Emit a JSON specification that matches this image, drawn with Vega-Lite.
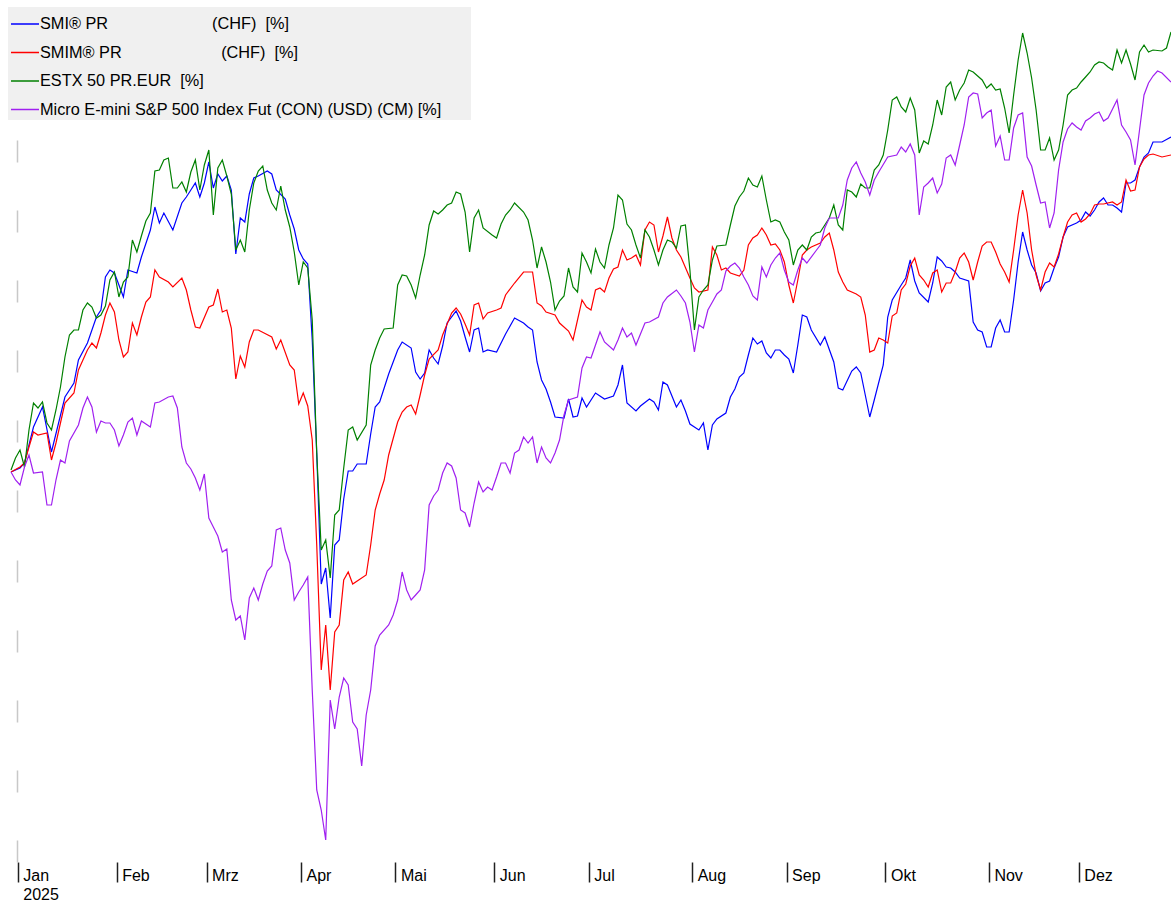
{
"$schema":"https://vega.github.io/schema/vega-lite/v6.json",
"width":1160,"height":852,
"autosize":{"type":"none"},
"padding":{"left":11,"top":10,"right":0,"bottom":40},
"background":"#ffffff",
"config":{"view":{"stroke":null},"font":"Liberation Sans"},
"datasets":{"pts":[
{"s":"SMI","t":0,"v":-0.08},{"s":"SMI","t":2,"v":0.08},{"s":"SMI","t":3,"v":0.28},{"s":"SMI","t":5,"v":1.72},{"s":"SMI","t":7,"v":2.52},{"s":"SMI","t":9,"v":0.72},{"s":"SMI","t":12,"v":2.92},{"s":"SMI","t":14,"v":3.48},{"s":"SMI","t":15,"v":4.4},{"s":"SMI","t":17,"v":5.08},{"s":"SMI","t":19,"v":6.12},{"s":"SMI","t":20,"v":6.4},{"s":"SMI","t":21,"v":7.72},{"s":"SMI","t":22,"v":8.0},{"s":"SMI","t":23,"v":7.88},{"s":"SMI","t":25,"v":6.92},{"s":"SMI","t":26,"v":8.0},{"s":"SMI","t":28,"v":7.88},{"s":"SMI","t":29,"v":8.52},{"s":"SMI","t":31,"v":9.6},{"s":"SMI","t":32,"v":10.52},{"s":"SMI","t":33,"v":9.88},{"s":"SMI","t":34,"v":10.28},{"s":"SMI","t":36,"v":9.6},{"s":"SMI","t":38,"v":10.68},{"s":"SMI","t":39,"v":10.92},{"s":"SMI","t":40,"v":11.2},{"s":"SMI","t":41,"v":11.48},{"s":"SMI","t":42,"v":10.92},{"s":"SMI","t":43,"v":11.48},{"s":"SMI","t":44,"v":12.32},{"s":"SMI","t":45,"v":11.28},{"s":"SMI","t":46,"v":11.84},{"s":"SMI","t":47,"v":11.56},{"s":"SMI","t":48,"v":11.76},{"s":"SMI","t":49,"v":11.2},{"s":"SMI","t":50,"v":8.64},{"s":"SMI","t":51,"v":10.08},{"s":"SMI","t":52,"v":9.92},{"s":"SMI","t":53,"v":11.04},{"s":"SMI","t":54,"v":11.68},{"s":"SMI","t":55,"v":11.76},{"s":"SMI","t":57,"v":11.96},{"s":"SMI","t":58,"v":11.84},{"s":"SMI","t":59,"v":11.2},{"s":"SMI","t":61,"v":10.84},{"s":"SMI","t":62,"v":10.2},{"s":"SMI","t":63,"v":9.64},{"s":"SMI","t":64,"v":8.8},{"s":"SMI","t":65,"v":8.44},{"s":"SMI","t":66,"v":8.24},{"s":"SMI","t":67,"v":5.2},{"s":"SMI","t":68,"v":0.68},{"s":"SMI","t":69,"v":-4.56},{"s":"SMI","t":70,"v":-3.92},{"s":"SMI","t":71,"v":-5.92},{"s":"SMI","t":72,"v":-3.0},{"s":"SMI","t":73,"v":-2.8},{"s":"SMI","t":74,"v":-1.16},{"s":"SMI","t":75,"v":-0.04},{"s":"SMI","t":76,"v":-0.04},{"s":"SMI","t":77,"v":0.24},{"s":"SMI","t":79,"v":0.24},{"s":"SMI","t":80,"v":1.44},{"s":"SMI","t":81,"v":2.52},{"s":"SMI","t":82,"v":2.72},{"s":"SMI","t":83,"v":3.28},{"s":"SMI","t":84,"v":3.84},{"s":"SMI","t":86,"v":4.8},{"s":"SMI","t":87,"v":5.12},{"s":"SMI","t":89,"v":4.88},{"s":"SMI","t":90,"v":3.92},{"s":"SMI","t":91,"v":3.64},{"s":"SMI","t":92,"v":3.88},{"s":"SMI","t":93,"v":4.8},{"s":"SMI","t":94,"v":4.48},{"s":"SMI","t":95,"v":4.24},{"s":"SMI","t":96,"v":4.96},{"s":"SMI","t":97,"v":5.88},{"s":"SMI","t":99,"v":6.36},{"s":"SMI","t":100,"v":5.96},{"s":"SMI","t":101,"v":5.32},{"s":"SMI","t":102,"v":4.72},{"s":"SMI","t":103,"v":5.6},{"s":"SMI","t":104,"v":5.68},{"s":"SMI","t":105,"v":4.72},{"s":"SMI","t":106,"v":4.8},{"s":"SMI","t":108,"v":4.72},{"s":"SMI","t":110,"v":5.44},{"s":"SMI","t":112,"v":6.08},{"s":"SMI","t":114,"v":5.88},{"s":"SMI","t":115,"v":5.72},{"s":"SMI","t":116,"v":5.6},{"s":"SMI","t":117,"v":4.32},{"s":"SMI","t":118,"v":3.6},{"s":"SMI","t":119,"v":3.24},{"s":"SMI","t":120,"v":2.72},{"s":"SMI","t":121,"v":2.12},{"s":"SMI","t":123,"v":2.08},{"s":"SMI","t":124,"v":2.84},{"s":"SMI","t":125,"v":2.12},{"s":"SMI","t":126,"v":2.16},{"s":"SMI","t":127,"v":2.88},{"s":"SMI","t":128,"v":2.52},{"s":"SMI","t":130,"v":3.08},{"s":"SMI","t":132,"v":2.84},{"s":"SMI","t":134,"v":2.96},{"s":"SMI","t":135,"v":3.4},{"s":"SMI","t":136,"v":4.2},{"s":"SMI","t":137,"v":2.68},{"s":"SMI","t":139,"v":2.36},{"s":"SMI","t":140,"v":2.56},{"s":"SMI","t":142,"v":2.84},{"s":"SMI","t":143,"v":2.72},{"s":"SMI","t":144,"v":2.4},{"s":"SMI","t":145,"v":3.52},{"s":"SMI","t":146,"v":3.4},{"s":"SMI","t":148,"v":2.52},{"s":"SMI","t":149,"v":2.8},{"s":"SMI","t":150,"v":2.36},{"s":"SMI","t":151,"v":1.84},{"s":"SMI","t":153,"v":1.6},{"s":"SMI","t":154,"v":1.88},{"s":"SMI","t":155,"v":0.8},{"s":"SMI","t":156,"v":1.8},{"s":"SMI","t":157,"v":2.04},{"s":"SMI","t":159,"v":2.28},{"s":"SMI","t":160,"v":2.92},{"s":"SMI","t":161,"v":3.24},{"s":"SMI","t":162,"v":3.72},{"s":"SMI","t":163,"v":3.88},{"s":"SMI","t":164,"v":4.6},{"s":"SMI","t":165,"v":5.28},{"s":"SMI","t":166,"v":5.04},{"s":"SMI","t":167,"v":5.16},{"s":"SMI","t":168,"v":4.68},{"s":"SMI","t":169,"v":4.48},{"s":"SMI","t":170,"v":4.8},{"s":"SMI","t":171,"v":4.8},{"s":"SMI","t":172,"v":4.6},{"s":"SMI","t":173,"v":4.44},{"s":"SMI","t":174,"v":3.88},{"s":"SMI","t":175,"v":5.0},{"s":"SMI","t":176,"v":6.2},{"s":"SMI","t":177,"v":6.12},{"s":"SMI","t":178,"v":5.6},{"s":"SMI","t":180,"v":5.0},{"s":"SMI","t":181,"v":5.32},{"s":"SMI","t":183,"v":4.32},{"s":"SMI","t":184,"v":3.28},{"s":"SMI","t":185,"v":3.2},{"s":"SMI","t":187,"v":3.96},{"s":"SMI","t":188,"v":4.12},{"s":"SMI","t":189,"v":3.88},{"s":"SMI","t":190,"v":3.0},{"s":"SMI","t":191,"v":2.12},{"s":"SMI","t":192,"v":2.8},{"s":"SMI","t":194,"v":4.2},{"s":"SMI","t":195,"v":6.12},{"s":"SMI","t":196,"v":6.8},{"s":"SMI","t":198,"v":7.4},{"s":"SMI","t":199,"v":7.68},{"s":"SMI","t":200,"v":8.4},{"s":"SMI","t":201,"v":7.56},{"s":"SMI","t":202,"v":7.08},{"s":"SMI","t":204,"v":6.72},{"s":"SMI","t":205,"v":7.48},{"s":"SMI","t":206,"v":8.52},{"s":"SMI","t":207,"v":8.36},{"s":"SMI","t":208,"v":8.12},{"s":"SMI","t":209,"v":8.08},{"s":"SMI","t":210,"v":7.92},{"s":"SMI","t":211,"v":7.68},{"s":"SMI","t":213,"v":7.56},{"s":"SMI","t":214,"v":5.92},{"s":"SMI","t":215,"v":5.6},{"s":"SMI","t":216,"v":5.52},{"s":"SMI","t":217,"v":4.92},{"s":"SMI","t":218,"v":4.92},{"s":"SMI","t":219,"v":5.68},{"s":"SMI","t":220,"v":6.0},{"s":"SMI","t":221,"v":5.52},{"s":"SMI","t":222,"v":5.52},{"s":"SMI","t":223,"v":6.8},{"s":"SMI","t":224,"v":8.32},{"s":"SMI","t":225,"v":9.52},{"s":"SMI","t":226,"v":8.8},{"s":"SMI","t":227,"v":8.2},{"s":"SMI","t":228,"v":7.88},{"s":"SMI","t":229,"v":7.16},{"s":"SMI","t":230,"v":7.48},{"s":"SMI","t":231,"v":7.56},{"s":"SMI","t":232,"v":8.08},{"s":"SMI","t":233,"v":8.52},{"s":"SMI","t":234,"v":9.32},{"s":"SMI","t":235,"v":9.72},{"s":"SMI","t":237,"v":9.88},{"s":"SMI","t":238,"v":10.0},{"s":"SMI","t":239,"v":10.32},{"s":"SMI","t":240,"v":10.16},{"s":"SMI","t":241,"v":10.4},{"s":"SMI","t":242,"v":10.72},{"s":"SMI","t":243,"v":10.88},{"s":"SMI","t":244,"v":10.6},{"s":"SMI","t":245,"v":10.6},{"s":"SMI","t":246,"v":10.48},{"s":"SMI","t":247,"v":10.32},{"s":"SMI","t":248,"v":11.48},{"s":"SMI","t":249,"v":11.48},{"s":"SMI","t":250,"v":11.6},{"s":"SMI","t":251,"v":12.12},{"s":"SMI","t":252,"v":12.52},{"s":"SMI","t":253,"v":12.68},{"s":"SMI","t":254,"v":13.12},{"s":"SMI","t":256,"v":13.12},{"s":"SMI","t":258,"v":13.32},
{"s":"SMIM","t":0,"v":-0.08},{"s":"SMIM","t":2,"v":0.12},{"s":"SMIM","t":3,"v":0.28},{"s":"SMIM","t":4,"v":0.92},{"s":"SMIM","t":5,"v":1.52},{"s":"SMIM","t":6,"v":1.4},{"s":"SMIM","t":8,"v":1.48},{"s":"SMIM","t":9,"v":0.4},{"s":"SMIM","t":10,"v":1.08},{"s":"SMIM","t":11,"v":1.88},{"s":"SMIM","t":12,"v":2.68},{"s":"SMIM","t":14,"v":3.08},{"s":"SMIM","t":15,"v":4.0},{"s":"SMIM","t":16,"v":4.4},{"s":"SMIM","t":17,"v":4.8},{"s":"SMIM","t":18,"v":5.08},{"s":"SMIM","t":19,"v":4.88},{"s":"SMIM","t":20,"v":5.48},{"s":"SMIM","t":21,"v":6.2},{"s":"SMIM","t":22,"v":6.68},{"s":"SMIM","t":23,"v":6.32},{"s":"SMIM","t":24,"v":5.2},{"s":"SMIM","t":25,"v":4.52},{"s":"SMIM","t":26,"v":4.72},{"s":"SMIM","t":27,"v":5.88},{"s":"SMIM","t":28,"v":5.4},{"s":"SMIM","t":29,"v":6.12},{"s":"SMIM","t":30,"v":6.72},{"s":"SMIM","t":31,"v":6.92},{"s":"SMIM","t":32,"v":8.0},{"s":"SMIM","t":33,"v":7.72},{"s":"SMIM","t":35,"v":7.52},{"s":"SMIM","t":36,"v":7.32},{"s":"SMIM","t":38,"v":7.68},{"s":"SMIM","t":39,"v":7.2},{"s":"SMIM","t":40,"v":6.4},{"s":"SMIM","t":41,"v":5.72},{"s":"SMIM","t":42,"v":5.68},{"s":"SMIM","t":44,"v":6.52},{"s":"SMIM","t":45,"v":6.6},{"s":"SMIM","t":46,"v":7.24},{"s":"SMIM","t":47,"v":6.32},{"s":"SMIM","t":48,"v":6.4},{"s":"SMIM","t":49,"v":5.68},{"s":"SMIM","t":50,"v":3.64},{"s":"SMIM","t":51,"v":4.56},{"s":"SMIM","t":52,"v":4.12},{"s":"SMIM","t":53,"v":5.12},{"s":"SMIM","t":54,"v":5.6},{"s":"SMIM","t":55,"v":5.6},{"s":"SMIM","t":58,"v":5.32},{"s":"SMIM","t":59,"v":4.84},{"s":"SMIM","t":60,"v":5.2},{"s":"SMIM","t":62,"v":4.2},{"s":"SMIM","t":63,"v":4.0},{"s":"SMIM","t":64,"v":2.64},{"s":"SMIM","t":65,"v":3.08},{"s":"SMIM","t":66,"v":2.56},{"s":"SMIM","t":67,"v":1.2},{"s":"SMIM","t":68,"v":-3.0},{"s":"SMIM","t":69,"v":-8.0},{"s":"SMIM","t":70,"v":-6.2},{"s":"SMIM","t":71,"v":-8.8},{"s":"SMIM","t":72,"v":-6.48},{"s":"SMIM","t":73,"v":-6.2},{"s":"SMIM","t":74,"v":-4.4},{"s":"SMIM","t":75,"v":-4.08},{"s":"SMIM","t":76,"v":-4.56},{"s":"SMIM","t":79,"v":-4.2},{"s":"SMIM","t":80,"v":-3.0},{"s":"SMIM","t":81,"v":-1.6},{"s":"SMIM","t":82,"v":-0.96},{"s":"SMIM","t":83,"v":-0.4},{"s":"SMIM","t":84,"v":0.6},{"s":"SMIM","t":86,"v":1.92},{"s":"SMIM","t":87,"v":2.32},{"s":"SMIM","t":88,"v":2.52},{"s":"SMIM","t":89,"v":2.6},{"s":"SMIM","t":90,"v":2.24},{"s":"SMIM","t":91,"v":3.0},{"s":"SMIM","t":92,"v":3.8},{"s":"SMIM","t":93,"v":4.44},{"s":"SMIM","t":95,"v":4.8},{"s":"SMIM","t":96,"v":5.4},{"s":"SMIM","t":98,"v":6.28},{"s":"SMIM","t":99,"v":6.48},{"s":"SMIM","t":100,"v":6.24},{"s":"SMIM","t":101,"v":5.84},{"s":"SMIM","t":102,"v":5.4},{"s":"SMIM","t":103,"v":6.6},{"s":"SMIM","t":104,"v":6.68},{"s":"SMIM","t":105,"v":6.04},{"s":"SMIM","t":106,"v":6.28},{"s":"SMIM","t":108,"v":6.4},{"s":"SMIM","t":109,"v":6.48},{"s":"SMIM","t":110,"v":7.0},{"s":"SMIM","t":112,"v":7.48},{"s":"SMIM","t":114,"v":7.92},{"s":"SMIM","t":116,"v":7.92},{"s":"SMIM","t":117,"v":6.68},{"s":"SMIM","t":118,"v":6.56},{"s":"SMIM","t":119,"v":6.32},{"s":"SMIM","t":121,"v":6.2},{"s":"SMIM","t":122,"v":5.88},{"s":"SMIM","t":124,"v":5.56},{"s":"SMIM","t":125,"v":5.2},{"s":"SMIM","t":127,"v":6.8},{"s":"SMIM","t":128,"v":6.52},{"s":"SMIM","t":129,"v":6.4},{"s":"SMIM","t":130,"v":7.2},{"s":"SMIM","t":131,"v":7.28},{"s":"SMIM","t":132,"v":7.12},{"s":"SMIM","t":133,"v":7.68},{"s":"SMIM","t":134,"v":8.04},{"s":"SMIM","t":135,"v":8.12},{"s":"SMIM","t":136,"v":8.8},{"s":"SMIM","t":137,"v":8.4},{"s":"SMIM","t":138,"v":8.48},{"s":"SMIM","t":139,"v":8.6},{"s":"SMIM","t":140,"v":8.2},{"s":"SMIM","t":141,"v":9.6},{"s":"SMIM","t":142,"v":9.92},{"s":"SMIM","t":143,"v":9.8},{"s":"SMIM","t":144,"v":8.72},{"s":"SMIM","t":145,"v":9.36},{"s":"SMIM","t":146,"v":10.12},{"s":"SMIM","t":147,"v":9.28},{"s":"SMIM","t":148,"v":8.8},{"s":"SMIM","t":149,"v":8.52},{"s":"SMIM","t":151,"v":7.68},{"s":"SMIM","t":152,"v":7.28},{"s":"SMIM","t":153,"v":7.12},{"s":"SMIM","t":155,"v":7.2},{"s":"SMIM","t":156,"v":8.92},{"s":"SMIM","t":157,"v":8.6},{"s":"SMIM","t":158,"v":8.0},{"s":"SMIM","t":159,"v":8.08},{"s":"SMIM","t":160,"v":7.88},{"s":"SMIM","t":162,"v":7.76},{"s":"SMIM","t":163,"v":8.0},{"s":"SMIM","t":164,"v":9.0},{"s":"SMIM","t":165,"v":9.28},{"s":"SMIM","t":166,"v":9.4},{"s":"SMIM","t":167,"v":9.68},{"s":"SMIM","t":168,"v":9.4},{"s":"SMIM","t":169,"v":9.0},{"s":"SMIM","t":170,"v":9.04},{"s":"SMIM","t":171,"v":8.8},{"s":"SMIM","t":172,"v":8.32},{"s":"SMIM","t":173,"v":7.4},{"s":"SMIM","t":174,"v":6.68},{"s":"SMIM","t":175,"v":7.6},{"s":"SMIM","t":176,"v":8.6},{"s":"SMIM","t":177,"v":8.8},{"s":"SMIM","t":178,"v":8.92},{"s":"SMIM","t":180,"v":9.08},{"s":"SMIM","t":181,"v":9.32},{"s":"SMIM","t":182,"v":9.48},{"s":"SMIM","t":183,"v":8.8},{"s":"SMIM","t":184,"v":7.92},{"s":"SMIM","t":185,"v":7.52},{"s":"SMIM","t":186,"v":7.2},{"s":"SMIM","t":188,"v":7.04},{"s":"SMIM","t":189,"v":6.92},{"s":"SMIM","t":190,"v":6.2},{"s":"SMIM","t":191,"v":4.72},{"s":"SMIM","t":192,"v":4.8},{"s":"SMIM","t":193,"v":5.28},{"s":"SMIM","t":194,"v":5.2},{"s":"SMIM","t":195,"v":5.08},{"s":"SMIM","t":196,"v":6.16},{"s":"SMIM","t":197,"v":6.28},{"s":"SMIM","t":198,"v":7.2},{"s":"SMIM","t":199,"v":7.44},{"s":"SMIM","t":200,"v":8.16},{"s":"SMIM","t":201,"v":8.48},{"s":"SMIM","t":202,"v":7.8},{"s":"SMIM","t":203,"v":7.6},{"s":"SMIM","t":204,"v":7.32},{"s":"SMIM","t":205,"v":7.88},{"s":"SMIM","t":206,"v":8.0},{"s":"SMIM","t":207,"v":7.12},{"s":"SMIM","t":208,"v":7.48},{"s":"SMIM","t":209,"v":7.48},{"s":"SMIM","t":210,"v":7.92},{"s":"SMIM","t":211,"v":8.48},{"s":"SMIM","t":212,"v":8.68},{"s":"SMIM","t":213,"v":8.32},{"s":"SMIM","t":214,"v":7.6},{"s":"SMIM","t":215,"v":8.32},{"s":"SMIM","t":216,"v":8.96},{"s":"SMIM","t":217,"v":9.12},{"s":"SMIM","t":218,"v":9.12},{"s":"SMIM","t":219,"v":8.72},{"s":"SMIM","t":220,"v":8.24},{"s":"SMIM","t":221,"v":7.92},{"s":"SMIM","t":222,"v":7.52},{"s":"SMIM","t":223,"v":8.8},{"s":"SMIM","t":224,"v":10.2},{"s":"SMIM","t":225,"v":11.2},{"s":"SMIM","t":226,"v":10.28},{"s":"SMIM","t":227,"v":8.8},{"s":"SMIM","t":228,"v":7.8},{"s":"SMIM","t":229,"v":7.2},{"s":"SMIM","t":230,"v":7.92},{"s":"SMIM","t":231,"v":8.28},{"s":"SMIM","t":232,"v":8.12},{"s":"SMIM","t":233,"v":8.64},{"s":"SMIM","t":234,"v":9.32},{"s":"SMIM","t":235,"v":9.92},{"s":"SMIM","t":236,"v":10.2},{"s":"SMIM","t":237,"v":10.28},{"s":"SMIM","t":238,"v":9.92},{"s":"SMIM","t":239,"v":10.04},{"s":"SMIM","t":240,"v":10.24},{"s":"SMIM","t":241,"v":10.6},{"s":"SMIM","t":242,"v":10.64},{"s":"SMIM","t":243,"v":10.64},{"s":"SMIM","t":245,"v":10.72},{"s":"SMIM","t":246,"v":10.6},{"s":"SMIM","t":247,"v":10.72},{"s":"SMIM","t":248,"v":11.6},{"s":"SMIM","t":249,"v":11.16},{"s":"SMIM","t":250,"v":11.2},{"s":"SMIM","t":251,"v":12.12},{"s":"SMIM","t":252,"v":12.44},{"s":"SMIM","t":253,"v":12.6},{"s":"SMIM","t":254,"v":12.64},{"s":"SMIM","t":256,"v":12.52},{"s":"SMIM","t":258,"v":12.6},
{"s":"ESTX","t":0,"v":0},{"s":"ESTX","t":1,"v":0.48},{"s":"ESTX","t":2,"v":0.8},{"s":"ESTX","t":3,"v":0.12},{"s":"ESTX","t":4,"v":1.6},{"s":"ESTX","t":5,"v":2.68},{"s":"ESTX","t":6,"v":2.48},{"s":"ESTX","t":7,"v":2.72},{"s":"ESTX","t":8,"v":1.88},{"s":"ESTX","t":9,"v":1.6},{"s":"ESTX","t":10,"v":2.4},{"s":"ESTX","t":11,"v":3.32},{"s":"ESTX","t":12,"v":4.52},{"s":"ESTX","t":13,"v":5.4},{"s":"ESTX","t":14,"v":5.6},{"s":"ESTX","t":15,"v":5.6},{"s":"ESTX","t":16,"v":6.4},{"s":"ESTX","t":17,"v":6.68},{"s":"ESTX","t":18,"v":6.52},{"s":"ESTX","t":19,"v":6.08},{"s":"ESTX","t":20,"v":6.2},{"s":"ESTX","t":21,"v":6.56},{"s":"ESTX","t":22,"v":7.6},{"s":"ESTX","t":23,"v":7.92},{"s":"ESTX","t":24,"v":6.92},{"s":"ESTX","t":25,"v":7.52},{"s":"ESTX","t":26,"v":7.72},{"s":"ESTX","t":27,"v":9.2},{"s":"ESTX","t":28,"v":8.72},{"s":"ESTX","t":29,"v":9.36},{"s":"ESTX","t":30,"v":9.96},{"s":"ESTX","t":31,"v":10.28},{"s":"ESTX","t":32,"v":11.96},{"s":"ESTX","t":33,"v":12.0},{"s":"ESTX","t":34,"v":12.4},{"s":"ESTX","t":35,"v":12.48},{"s":"ESTX","t":36,"v":11.28},{"s":"ESTX","t":37,"v":11.28},{"s":"ESTX","t":38,"v":11.52},{"s":"ESTX","t":39,"v":11.12},{"s":"ESTX","t":40,"v":11.92},{"s":"ESTX","t":41,"v":12.4},{"s":"ESTX","t":42,"v":11.2},{"s":"ESTX","t":43,"v":12.2},{"s":"ESTX","t":44,"v":12.8},{"s":"ESTX","t":45,"v":10.2},{"s":"ESTX","t":46,"v":12.08},{"s":"ESTX","t":47,"v":12.4},{"s":"ESTX","t":48,"v":11.76},{"s":"ESTX","t":49,"v":11.04},{"s":"ESTX","t":50,"v":8.8},{"s":"ESTX","t":51,"v":9.2},{"s":"ESTX","t":52,"v":8.72},{"s":"ESTX","t":53,"v":10.4},{"s":"ESTX","t":54,"v":11.48},{"s":"ESTX","t":55,"v":11.96},{"s":"ESTX","t":56,"v":12.16},{"s":"ESTX","t":57,"v":11.2},{"s":"ESTX","t":58,"v":10.68},{"s":"ESTX","t":59,"v":10.4},{"s":"ESTX","t":60,"v":11.36},{"s":"ESTX","t":61,"v":10.4},{"s":"ESTX","t":62,"v":9.72},{"s":"ESTX","t":63,"v":8.72},{"s":"ESTX","t":64,"v":7.4},{"s":"ESTX","t":65,"v":8.32},{"s":"ESTX","t":66,"v":8.08},{"s":"ESTX","t":67,"v":6.0},{"s":"ESTX","t":68,"v":0.68},{"s":"ESTX","t":69,"v":-3.2},{"s":"ESTX","t":70,"v":-2.8},{"s":"ESTX","t":71,"v":-4.32},{"s":"ESTX","t":72,"v":-1.8},{"s":"ESTX","t":73,"v":-1.6},{"s":"ESTX","t":74,"v":0.08},{"s":"ESTX","t":75,"v":1.6},{"s":"ESTX","t":76,"v":1.72},{"s":"ESTX","t":77,"v":1.2},{"s":"ESTX","t":79,"v":1.8},{"s":"ESTX","t":80,"v":4.2},{"s":"ESTX","t":81,"v":4.8},{"s":"ESTX","t":82,"v":5.28},{"s":"ESTX","t":83,"v":5.64},{"s":"ESTX","t":85,"v":5.68},{"s":"ESTX","t":86,"v":7.4},{"s":"ESTX","t":87,"v":7.8},{"s":"ESTX","t":88,"v":7.76},{"s":"ESTX","t":89,"v":7.4},{"s":"ESTX","t":90,"v":6.88},{"s":"ESTX","t":91,"v":7.8},{"s":"ESTX","t":92,"v":8.6},{"s":"ESTX","t":93,"v":9.8},{"s":"ESTX","t":94,"v":10.36},{"s":"ESTX","t":95,"v":10.24},{"s":"ESTX","t":96,"v":10.4},{"s":"ESTX","t":97,"v":10.6},{"s":"ESTX","t":98,"v":10.68},{"s":"ESTX","t":99,"v":11.12},{"s":"ESTX","t":100,"v":11.04},{"s":"ESTX","t":101,"v":10.32},{"s":"ESTX","t":102,"v":8.72},{"s":"ESTX","t":103,"v":10.08},{"s":"ESTX","t":104,"v":10.4},{"s":"ESTX","t":105,"v":9.68},{"s":"ESTX","t":107,"v":9.4},{"s":"ESTX","t":108,"v":9.28},{"s":"ESTX","t":109,"v":9.84},{"s":"ESTX","t":110,"v":10.2},{"s":"ESTX","t":111,"v":10.4},{"s":"ESTX","t":112,"v":10.68},{"s":"ESTX","t":114,"v":10.32},{"s":"ESTX","t":115,"v":10.0},{"s":"ESTX","t":116,"v":9.2},{"s":"ESTX","t":117,"v":8.08},{"s":"ESTX","t":118,"v":8.92},{"s":"ESTX","t":119,"v":8.32},{"s":"ESTX","t":120,"v":7.52},{"s":"ESTX","t":121,"v":6.4},{"s":"ESTX","t":122,"v":6.76},{"s":"ESTX","t":123,"v":6.96},{"s":"ESTX","t":124,"v":8.08},{"s":"ESTX","t":125,"v":7.32},{"s":"ESTX","t":126,"v":7.12},{"s":"ESTX","t":127,"v":8.68},{"s":"ESTX","t":128,"v":8.32},{"s":"ESTX","t":129,"v":7.88},{"s":"ESTX","t":130,"v":8.84},{"s":"ESTX","t":131,"v":8.32},{"s":"ESTX","t":132,"v":8.08},{"s":"ESTX","t":133,"v":9.0},{"s":"ESTX","t":134,"v":9.68},{"s":"ESTX","t":135,"v":11.0},{"s":"ESTX","t":136,"v":10.8},{"s":"ESTX","t":137,"v":9.84},{"s":"ESTX","t":138,"v":9.6},{"s":"ESTX","t":139,"v":9.0},{"s":"ESTX","t":140,"v":8.48},{"s":"ESTX","t":141,"v":9.6},{"s":"ESTX","t":142,"v":9.32},{"s":"ESTX","t":143,"v":8.8},{"s":"ESTX","t":144,"v":8.2},{"s":"ESTX","t":145,"v":8.8},{"s":"ESTX","t":146,"v":9.2},{"s":"ESTX","t":147,"v":9.12},{"s":"ESTX","t":148,"v":8.88},{"s":"ESTX","t":149,"v":9.76},{"s":"ESTX","t":150,"v":9.8},{"s":"ESTX","t":151,"v":8.0},{"s":"ESTX","t":152,"v":5.6},{"s":"ESTX","t":153,"v":6.92},{"s":"ESTX","t":154,"v":7.2},{"s":"ESTX","t":155,"v":7.4},{"s":"ESTX","t":156,"v":8.4},{"s":"ESTX","t":157,"v":8.96},{"s":"ESTX","t":159,"v":9.0},{"s":"ESTX","t":160,"v":9.8},{"s":"ESTX","t":161,"v":10.56},{"s":"ESTX","t":162,"v":10.92},{"s":"ESTX","t":163,"v":11.16},{"s":"ESTX","t":164,"v":11.68},{"s":"ESTX","t":165,"v":11.4},{"s":"ESTX","t":166,"v":11.32},{"s":"ESTX","t":167,"v":11.76},{"s":"ESTX","t":168,"v":10.8},{"s":"ESTX","t":169,"v":9.92},{"s":"ESTX","t":170,"v":10.0},{"s":"ESTX","t":171,"v":9.92},{"s":"ESTX","t":172,"v":9.52},{"s":"ESTX","t":173,"v":9.2},{"s":"ESTX","t":174,"v":8.2},{"s":"ESTX","t":175,"v":8.8},{"s":"ESTX","t":176,"v":9.0},{"s":"ESTX","t":177,"v":8.8},{"s":"ESTX","t":178,"v":9.32},{"s":"ESTX","t":179,"v":9.48},{"s":"ESTX","t":180,"v":9.52},{"s":"ESTX","t":181,"v":9.8},{"s":"ESTX","t":182,"v":10.08},{"s":"ESTX","t":183,"v":10.6},{"s":"ESTX","t":184,"v":9.8},{"s":"ESTX","t":185,"v":9.6},{"s":"ESTX","t":186,"v":11.2},{"s":"ESTX","t":187,"v":11.12},{"s":"ESTX","t":188,"v":10.92},{"s":"ESTX","t":189,"v":11.44},{"s":"ESTX","t":190,"v":11.28},{"s":"ESTX","t":191,"v":11.28},{"s":"ESTX","t":192,"v":12.0},{"s":"ESTX","t":193,"v":12.2},{"s":"ESTX","t":194,"v":12.6},{"s":"ESTX","t":195,"v":13.6},{"s":"ESTX","t":196,"v":14.8},{"s":"ESTX","t":197,"v":14.92},{"s":"ESTX","t":198,"v":14.52},{"s":"ESTX","t":199,"v":14.32},{"s":"ESTX","t":200,"v":14.88},{"s":"ESTX","t":201,"v":14.4},{"s":"ESTX","t":202,"v":12.68},{"s":"ESTX","t":203,"v":13.16},{"s":"ESTX","t":204,"v":13.04},{"s":"ESTX","t":205,"v":13.8},{"s":"ESTX","t":206,"v":14.8},{"s":"ESTX","t":207,"v":14.2},{"s":"ESTX","t":208,"v":15.32},{"s":"ESTX","t":209,"v":15.52},{"s":"ESTX","t":210,"v":14.8},{"s":"ESTX","t":211,"v":15.2},{"s":"ESTX","t":212,"v":15.48},{"s":"ESTX","t":213,"v":16.0},{"s":"ESTX","t":214,"v":15.92},{"s":"ESTX","t":216,"v":15.6},{"s":"ESTX","t":217,"v":15.28},{"s":"ESTX","t":218,"v":15.44},{"s":"ESTX","t":219,"v":15.2},{"s":"ESTX","t":220,"v":15.24},{"s":"ESTX","t":221,"v":14.48},{"s":"ESTX","t":222,"v":13.48},{"s":"ESTX","t":223,"v":15.0},{"s":"ESTX","t":224,"v":16.4},{"s":"ESTX","t":225,"v":17.48},{"s":"ESTX","t":226,"v":16.68},{"s":"ESTX","t":227,"v":15.68},{"s":"ESTX","t":228,"v":14.4},{"s":"ESTX","t":229,"v":12.8},{"s":"ESTX","t":230,"v":12.8},{"s":"ESTX","t":231,"v":13.28},{"s":"ESTX","t":232,"v":12.4},{"s":"ESTX","t":233,"v":12.8},{"s":"ESTX","t":234,"v":13.8},{"s":"ESTX","t":235,"v":15.0},{"s":"ESTX","t":236,"v":15.2},{"s":"ESTX","t":237,"v":15.28},{"s":"ESTX","t":238,"v":15.52},{"s":"ESTX","t":239,"v":15.72},{"s":"ESTX","t":240,"v":15.92},{"s":"ESTX","t":241,"v":16.2},{"s":"ESTX","t":242,"v":16.32},{"s":"ESTX","t":243,"v":16.28},{"s":"ESTX","t":244,"v":16.12},{"s":"ESTX","t":245,"v":16.0},{"s":"ESTX","t":246,"v":16.8},{"s":"ESTX","t":247,"v":16.28},{"s":"ESTX","t":248,"v":16.8},{"s":"ESTX","t":249,"v":16.24},{"s":"ESTX","t":250,"v":15.6},{"s":"ESTX","t":251,"v":16.72},{"s":"ESTX","t":252,"v":17.0},{"s":"ESTX","t":253,"v":16.72},{"s":"ESTX","t":254,"v":16.8},{"s":"ESTX","t":256,"v":16.76},{"s":"ESTX","t":257,"v":16.88},{"s":"ESTX","t":258,"v":17.52},
{"s":"MES","t":0,"v":-0.08},{"s":"MES","t":1,"v":-0.4},{"s":"MES","t":2,"v":-0.6},{"s":"MES","t":3,"v":0.12},{"s":"MES","t":4,"v":0.6},{"s":"MES","t":5,"v":-0.12},{"s":"MES","t":7,"v":-0.08},{"s":"MES","t":8,"v":-1.4},{"s":"MES","t":9,"v":-1.4},{"s":"MES","t":10,"v":-0.4},{"s":"MES","t":11,"v":0.4},{"s":"MES","t":12,"v":0.28},{"s":"MES","t":13,"v":1.16},{"s":"MES","t":15,"v":1.8},{"s":"MES","t":16,"v":2.48},{"s":"MES","t":17,"v":2.92},{"s":"MES","t":18,"v":2.52},{"s":"MES","t":19,"v":1.52},{"s":"MES","t":20,"v":1.96},{"s":"MES","t":21,"v":1.88},{"s":"MES","t":22,"v":1.88},{"s":"MES","t":23,"v":1.6},{"s":"MES","t":24,"v":0.96},{"s":"MES","t":25,"v":1.4},{"s":"MES","t":26,"v":1.92},{"s":"MES","t":27,"v":2.08},{"s":"MES","t":28,"v":1.4},{"s":"MES","t":29,"v":1.96},{"s":"MES","t":31,"v":1.72},{"s":"MES","t":32,"v":2.68},{"s":"MES","t":33,"v":2.72},{"s":"MES","t":35,"v":2.92},{"s":"MES","t":36,"v":2.96},{"s":"MES","t":37,"v":2.48},{"s":"MES","t":38,"v":0.92},{"s":"MES","t":39,"v":0.28},{"s":"MES","t":40,"v":0.04},{"s":"MES","t":41,"v":-0.32},{"s":"MES","t":42,"v":-0.8},{"s":"MES","t":43,"v":-0.16},{"s":"MES","t":44,"v":-1.92},{"s":"MES","t":45,"v":-2.28},{"s":"MES","t":46,"v":-2.64},{"s":"MES","t":47,"v":-3.28},{"s":"MES","t":48,"v":-3.16},{"s":"MES","t":49,"v":-5.2},{"s":"MES","t":50,"v":-6.0},{"s":"MES","t":51,"v":-5.84},{"s":"MES","t":52,"v":-6.8},{"s":"MES","t":53,"v":-5.12},{"s":"MES","t":54,"v":-4.72},{"s":"MES","t":55,"v":-5.2},{"s":"MES","t":56,"v":-4.56},{"s":"MES","t":57,"v":-4.04},{"s":"MES","t":58,"v":-3.84},{"s":"MES","t":59,"v":-2.4},{"s":"MES","t":60,"v":-2.32},{"s":"MES","t":61,"v":-3.2},{"s":"MES","t":62,"v":-3.72},{"s":"MES","t":63,"v":-5.2},{"s":"MES","t":64,"v":-4.88},{"s":"MES","t":65,"v":-4.6},{"s":"MES","t":66,"v":-4.28},{"s":"MES","t":67,"v":-8.8},{"s":"MES","t":68,"v":-12.8},{"s":"MES","t":69,"v":-13.6},{"s":"MES","t":70,"v":-14.8},{"s":"MES","t":71,"v":-9.2},{"s":"MES","t":72,"v":-10.36},{"s":"MES","t":73,"v":-9.08},{"s":"MES","t":74,"v":-8.32},{"s":"MES","t":75,"v":-8.6},{"s":"MES","t":76,"v":-10.08},{"s":"MES","t":77,"v":-10.36},{"s":"MES","t":78,"v":-11.84},{"s":"MES","t":79,"v":-9.8},{"s":"MES","t":80,"v":-8.8},{"s":"MES","t":81,"v":-7.04},{"s":"MES","t":82,"v":-6.6},{"s":"MES","t":84,"v":-6.2},{"s":"MES","t":85,"v":-5.8},{"s":"MES","t":86,"v":-5.2},{"s":"MES","t":87,"v":-4.08},{"s":"MES","t":88,"v":-4.8},{"s":"MES","t":89,"v":-5.2},{"s":"MES","t":90,"v":-5.0},{"s":"MES","t":91,"v":-4.8},{"s":"MES","t":92,"v":-4.0},{"s":"MES","t":93,"v":-1.4},{"s":"MES","t":94,"v":-1.04},{"s":"MES","t":95,"v":-0.8},{"s":"MES","t":96,"v":-0.12},{"s":"MES","t":97,"v":0.28},{"s":"MES","t":98,"v":0.16},{"s":"MES","t":99,"v":-0.32},{"s":"MES","t":100,"v":-1.6},{"s":"MES","t":101,"v":-1.72},{"s":"MES","t":102,"v":-2.28},{"s":"MES","t":103,"v":-1.32},{"s":"MES","t":104,"v":-0.48},{"s":"MES","t":105,"v":-0.88},{"s":"MES","t":106,"v":-0.68},{"s":"MES","t":107,"v":-0.8},{"s":"MES","t":108,"v":-0.28},{"s":"MES","t":109,"v":0.28},{"s":"MES","t":110,"v":0.28},{"s":"MES","t":111,"v":-0.12},{"s":"MES","t":112,"v":0.68},{"s":"MES","t":113,"v":0.8},{"s":"MES","t":114,"v":1.32},{"s":"MES","t":115,"v":1.08},{"s":"MES","t":116,"v":1.32},{"s":"MES","t":117,"v":0.28},{"s":"MES","t":118,"v":0.92},{"s":"MES","t":119,"v":0.48},{"s":"MES","t":120,"v":0.28},{"s":"MES","t":121,"v":0.68},{"s":"MES","t":122,"v":1.2},{"s":"MES","t":123,"v":2.2},{"s":"MES","t":124,"v":2.8},{"s":"MES","t":126,"v":2.92},{"s":"MES","t":127,"v":4.08},{"s":"MES","t":128,"v":4.52},{"s":"MES","t":129,"v":4.48},{"s":"MES","t":130,"v":5.0},{"s":"MES","t":131,"v":5.52},{"s":"MES","t":132,"v":5.12},{"s":"MES","t":134,"v":4.8},{"s":"MES","t":135,"v":5.2},{"s":"MES","t":136,"v":5.68},{"s":"MES","t":137,"v":5.32},{"s":"MES","t":138,"v":5.48},{"s":"MES","t":139,"v":5.0},{"s":"MES","t":140,"v":5.44},{"s":"MES","t":141,"v":5.88},{"s":"MES","t":142,"v":5.92},{"s":"MES","t":144,"v":6.12},{"s":"MES","t":145,"v":6.68},{"s":"MES","t":146,"v":6.92},{"s":"MES","t":148,"v":7.2},{"s":"MES","t":149,"v":6.96},{"s":"MES","t":150,"v":6.68},{"s":"MES","t":151,"v":5.92},{"s":"MES","t":152,"v":4.72},{"s":"MES","t":153,"v":5.8},{"s":"MES","t":154,"v":5.68},{"s":"MES","t":155,"v":6.4},{"s":"MES","t":156,"v":6.72},{"s":"MES","t":157,"v":7.04},{"s":"MES","t":158,"v":7.2},{"s":"MES","t":159,"v":7.96},{"s":"MES","t":160,"v":8.16},{"s":"MES","t":161,"v":8.28},{"s":"MES","t":162,"v":8.08},{"s":"MES","t":163,"v":7.72},{"s":"MES","t":164,"v":7.4},{"s":"MES","t":165,"v":6.96},{"s":"MES","t":166,"v":6.8},{"s":"MES","t":167,"v":8.12},{"s":"MES","t":168,"v":7.72},{"s":"MES","t":169,"v":8.2},{"s":"MES","t":170,"v":8.48},{"s":"MES","t":171,"v":8.68},{"s":"MES","t":172,"v":8.0},{"s":"MES","t":173,"v":7.52},{"s":"MES","t":174,"v":7.4},{"s":"MES","t":175,"v":8.0},{"s":"MES","t":176,"v":8.48},{"s":"MES","t":177,"v":8.28},{"s":"MES","t":179,"v":8.76},{"s":"MES","t":180,"v":9.0},{"s":"MES","t":181,"v":9.68},{"s":"MES","t":182,"v":10.08},{"s":"MES","t":184,"v":10.08},{"s":"MES","t":185,"v":10.6},{"s":"MES","t":186,"v":11.6},{"s":"MES","t":187,"v":12.08},{"s":"MES","t":188,"v":12.32},{"s":"MES","t":189,"v":11.88},{"s":"MES","t":190,"v":11.52},{"s":"MES","t":191,"v":11.0},{"s":"MES","t":192,"v":11.6},{"s":"MES","t":193,"v":11.92},{"s":"MES","t":195,"v":12.52},{"s":"MES","t":197,"v":12.6},{"s":"MES","t":198,"v":12.92},{"s":"MES","t":199,"v":12.72},{"s":"MES","t":200,"v":13.04},{"s":"MES","t":201,"v":12.6},{"s":"MES","t":202,"v":10.2},{"s":"MES","t":203,"v":11.32},{"s":"MES","t":204,"v":11.48},{"s":"MES","t":205,"v":11.68},{"s":"MES","t":206,"v":11.08},{"s":"MES","t":207,"v":11.44},{"s":"MES","t":208,"v":12.48},{"s":"MES","t":209,"v":12.6},{"s":"MES","t":210,"v":12.2},{"s":"MES","t":211,"v":13.0},{"s":"MES","t":212,"v":13.8},{"s":"MES","t":213,"v":14.92},{"s":"MES","t":214,"v":15.08},{"s":"MES","t":215,"v":15.04},{"s":"MES","t":216,"v":14.08},{"s":"MES","t":217,"v":14.28},{"s":"MES","t":218,"v":14.4},{"s":"MES","t":219,"v":12.96},{"s":"MES","t":220,"v":13.36},{"s":"MES","t":221,"v":12.4},{"s":"MES","t":222,"v":12.4},{"s":"MES","t":223,"v":13.68},{"s":"MES","t":224,"v":14.2},{"s":"MES","t":225,"v":14.28},{"s":"MES","t":226,"v":12.52},{"s":"MES","t":227,"v":12.16},{"s":"MES","t":228,"v":11.4},{"s":"MES","t":229,"v":10.68},{"s":"MES","t":230,"v":10.72},{"s":"MES","t":231,"v":9.68},{"s":"MES","t":232,"v":10.28},{"s":"MES","t":233,"v":12.0},{"s":"MES","t":234,"v":13.12},{"s":"MES","t":235,"v":13.64},{"s":"MES","t":236,"v":13.88},{"s":"MES","t":237,"v":13.72},{"s":"MES","t":238,"v":13.6},{"s":"MES","t":239,"v":13.96},{"s":"MES","t":240,"v":14.08},{"s":"MES","t":241,"v":14.24},{"s":"MES","t":242,"v":14.32},{"s":"MES","t":243,"v":13.96},{"s":"MES","t":244,"v":14.08},{"s":"MES","t":245,"v":14.44},{"s":"MES","t":246,"v":14.8},{"s":"MES","t":247,"v":13.8},{"s":"MES","t":248,"v":13.52},{"s":"MES","t":249,"v":13.2},{"s":"MES","t":250,"v":12.2},{"s":"MES","t":251,"v":13.6},{"s":"MES","t":252,"v":15.0},{"s":"MES","t":253,"v":15.48},{"s":"MES","t":254,"v":15.76},{"s":"MES","t":255,"v":15.96},{"s":"MES","t":256,"v":15.88},{"s":"MES","t":258,"v":15.52}
]},
"data":{"name":"pts"},
"mark":{"type":"line","strokeWidth":1.2,"interpolate":"linear"},
"encoding":{
"x":{"field":"t","type":"quantitative","scale":{"domain":[0,258],"nice":false,"zero":false},
"axis":{"title":null,"values":[1.5,23.5,43.5,64.5,85.5,107.5,128.5,151.5,172.5,194.5,217.5,237.5],"domain":false,"grid":false,"ticks":true,"tickColor":"#202020","tickSize":20,"tickWidth":1.5,"labelAlign":"left","labelBaseline":"top","labelPadding":-15,"labelOffset":5,"labelFont":"Liberation Sans","labelFontSize":16,"labelColor":"#000000","labelLineHeight":19,"labelOverlap":false,"labelFlush":false,"labelBound":false,
"labelExpr":"datum.value < 2 ? ['Jan','2025'] : datum.value < 30 ? 'Feb' : datum.value < 50 ? 'Mrz' : datum.value < 70 ? 'Apr' : datum.value < 90 ? 'Mai' : datum.value < 110 ? 'Jun' : datum.value < 140 ? 'Jul' : datum.value < 160 ? 'Aug' : datum.value < 180 ? 'Sep' : datum.value < 200 ? 'Okt' : datum.value < 225 ? 'Nov' : 'Dez'"}},
"y":{"field":"v","type":"quantitative","scale":{"domain":[-15.68,18.4],"nice":false,"zero":false},
"axis":{"title":null,"labels":false,"ticks":false,"grid":false,"domain":true,"domainColor":"#c8c8c8","domainWidth":1.5,"domainDash":[22,48],"offset":-6}},
"color":{"field":"s","type":"nominal","sort":null,"scale":{"domain":["SMI","SMIM","ESTX","MES"],"range":["#0000ff","#ff0000","#008000","#a020f0"]},
"legend":{"orient":"none","legendX":-3,"legendY":-3,"direction":"vertical","title":null,"symbolType":"stroke","symbolSize":784,"symbolStrokeWidth":1.5,"labelFont":"Liberation Sans","labelFontSize":16.3,"labelColor":"#000000","labelLimit":600,"labelOffset":0,"fillColor":"#f0f0f0","padding":2,"rowPadding":4.5,
"labelExpr":"datum.label == 'SMI' ? 'SMI® PR\u00a0\u00a0\u00a0\u00a0\u00a0\u00a0\u00a0\u00a0\u00a0\u00a0\u00a0\u00a0\u00a0\u00a0\u00a0\u00a0\u00a0\u00a0\u00a0\u00a0\u00a0\u00a0\u00a0(CHF)\u00a0\u00a0[%]' : datum.label == 'SMIM' ? 'SMIM® PR\u00a0\u00a0\u00a0\u00a0\u00a0\u00a0\u00a0\u00a0\u00a0\u00a0\u00a0\u00a0\u00a0\u00a0\u00a0\u00a0\u00a0\u00a0\u00a0\u00a0\u00a0\u00a0(CHF)\u00a0\u00a0[%]' : datum.label == 'ESTX' ? 'ESTX 50 PR.EUR\u00a0\u00a0[%]' : 'Micro E-mini S&P 500 Index Fut (CON) (USD) (CM) [%]\u00a0\u00a0\u00a0\u00a0\u00a0\u00a0\u200b'"}}
}
}
